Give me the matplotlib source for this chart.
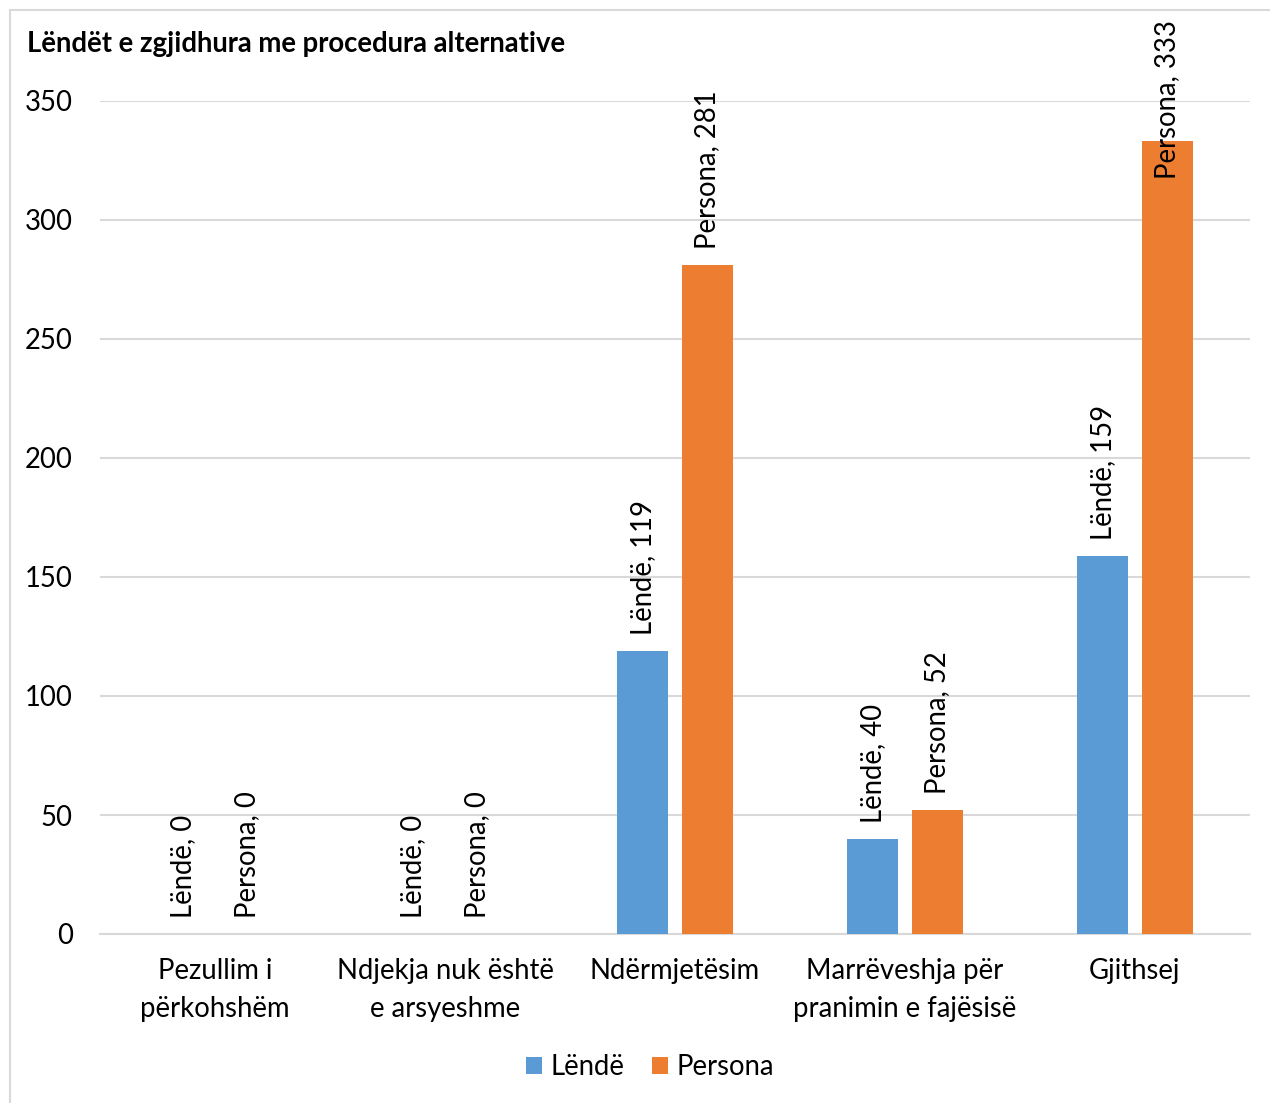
import matplotlib.pyplot as plt
import matplotlib.transforms as mtransforms
from matplotlib.patches import Rectangle
import numpy as np

kategorite = ['Pezullim i\npërkohshëm', 'Ndjekja nuk është\ne arsyeshme', 'Ndërmjetësim',
              'Marrëveshja për\npranimin e fajësisë', 'Gjithsej']
lende = [0, 0, 119, 40, 159]
persona = [0, 0, 281, 52, 333]
seri_emrat = ['Lëndë', 'Persona']
yticks = [0, 50, 100, 150, 200, 250, 300, 350]

plt.rcParams['font.family'] = ['Lato', 'DejaVu Sans']
fs = 19.8

fig = plt.figure(figsize=(12.7, 11.03), dpi=100)
ax = fig.add_axes([100/1270, 1-934/1103, 1150/1270, 833/1103])

# korniza e grafikut
fig.patches.append(Rectangle((10/1270, -0.1), 1.2, 1-10/1103 + 0.1, transform=fig.transFigure,
                             fill=False, edgecolor='#D9D9D9', linewidth=1.5))

x = np.arange(len(kategorite))
w = 0.222
off = 0.141
b1 = ax.bar(x - off, lende, w, color='#5B9BD5', label=seri_emrat[0], zorder=3)
b2 = ax.bar(x + off, persona, w, color='#ED7D31', label=seri_emrat[1], zorder=3)

ax.set_xlim(-0.5, len(kategorite) - 0.5)
ax.set_ylim(0, 350)
ax.set_yticks(yticks)
ax.set_xticks(x)
ax.set_xticklabels(kategorite, fontsize=fs, linespacing=1.6)
ax.tick_params(axis='y', labelsize=fs, length=0, pad=19.5)
ax.tick_params(axis='x', length=0, pad=17)
ax.grid(axis='y', color='#D9D9D9', linewidth=1.5, zorder=0)
for s in ['top', 'right', 'left']:
    ax.spines[s].set_visible(False)
ax.spines['bottom'].set_color('#D9D9D9')
ax.spines['bottom'].set_linewidth(1.5)

# etiketat e vlerave
for bars, emri in [(b1, seri_emrat[0]), (b2, seri_emrat[1])]:
    for b in bars:
        v = b.get_height()
        xc = b.get_x() + b.get_width() / 2
        teksti = f'{emri}, {int(v)}'
        if v > 320:
            tr = mtransforms.blended_transform_factory(ax.transData, fig.transFigure)
            ax.text(xc, 1 - 20/1103, teksti, rotation=90, ha='center', va='top',
                    fontsize=fs, transform=tr, zorder=4)
        else:
            ax.annotate(teksti, (xc, v), xytext=(0, 16), textcoords='offset pixels',
                        rotation=90, ha='center', va='bottom', fontsize=fs, zorder=4)

fig.text(27/1270, 1 - 44/1103, 'Lëndët e zgjidhura me procedura alternative',
         fontsize=fs, fontweight='bold', va='center', ha='left')

fig.legend(loc='center', bbox_to_anchor=(650/1270, 1 - 1067/1103), ncol=2, frameon=False,
           fontsize=fs, handlelength=0.6, handleheight=0.6, handletextpad=0.3,
           columnspacing=1.0)

fig.savefig('out.png', dpi=100)
